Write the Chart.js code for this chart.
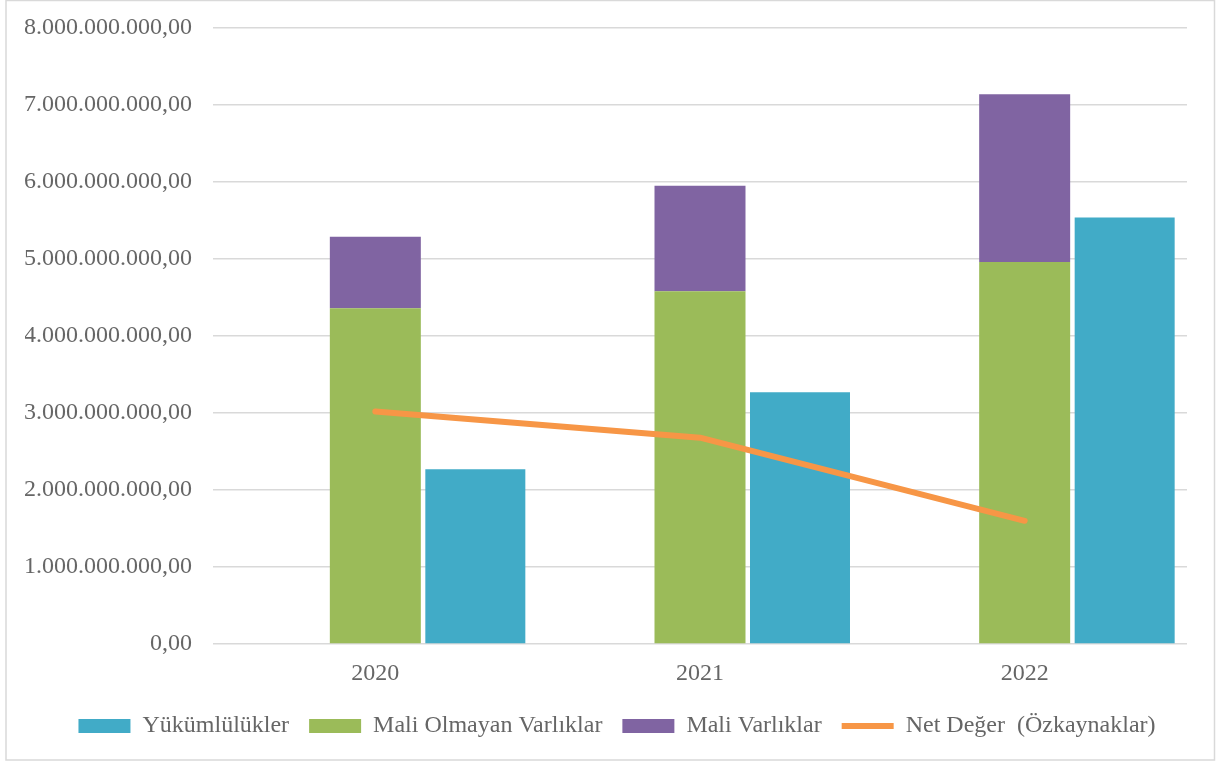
<!DOCTYPE html>
<html>
<head>
<meta charset="utf-8">
<script src="https://cdn.jsdelivr.net/npm/chart.js@4"></script>
<style>
  html, body { margin: 0; padding: 0; background: #fff; }
  #wrap { width: 1217px; height: 762px; position: relative; }
</style>
</head>
<body>
<div id="wrap"><canvas id="chart"></canvas></div>
<script>
var years = ['2020', '2021', '2022'];
var yukumlulukler = [2270000000, 3270000000, 5540000000];
var maliOlmayan = [4360000000, 4580000000, 4960000000];
var maliVarliklar = [930000000, 1370000000, 2180000000];
var netDeger = [3020000000, 2680000000, 1600000000];

var textColor = '#666666';
var serif = "'Liberation Serif', 'Times New Roman', serif";

// 1.000.000.000,00 style numbers
function trFormat(v) {
    var s = Math.round(Math.abs(v)).toString();
    s = s.replace(/\B(?=(\d{3})+(?!\d))/g, '.');
    return (v < 0 ? '-' : '') + s + ',00';
}

var frame = {
    id: 'frame',
    beforeDraw: function(chart) {
        var c = chart.ctx;
        c.save();
        c.strokeStyle = '#d9d9d9';
        c.lineWidth = 1.5;
        c.strokeRect(6, 0.5, 1208.5, 759.5);
        c.restore();
    },
    afterLayout: function(chart) {
        // legend sits a bit right of the plot centre in the original
        if (chart.legend) {
            chart.legend.left += 11;
            chart.legend.right += 11;
        }
    }
};

// legend order: Yükümlülükler, Mali Olmayan, Mali Varlıklar, Net Değer
var legendRank = { 1: 2, 2: 3, 3: 1, 4: 4 };

var ctx = document.getElementById('chart').getContext('2d');
new Chart(ctx, {
    type: 'bar',
    data: {
        labels: years,
        datasets: [{
            // empty left slot, keeps the asset stack on the category centre
            label: '',
            data: [null, null, null],
            stack: 'a',
            backgroundColor: 'rgba(0,0,0,0)'
        }, {
            label: 'Mali Olmayan Varlıklar',
            data: maliOlmayan,
            stack: 'b',
            backgroundColor: '#9bbb59',
            barPercentage: 0.91,
            pointStyle: 'rect'
        }, {
            label: 'Mali Varlıklar',
            data: maliVarliklar,
            stack: 'b',
            backgroundColor: '#8064a2',
            barPercentage: 0.91,
            pointStyle: 'rect'
        }, {
            label: 'Yükümlülükler',
            data: yukumlulukler,
            stack: 'c',
            backgroundColor: '#41abc7',
            barPercentage: 1.0,
            pointStyle: 'rect'
        }, {
            type: 'line',
            label: 'Net Değer  (Özkaynaklar)',
            data: netDeger,
            order: -1,
            borderColor: '#f79646',
            backgroundColor: '#f79646',
            borderWidth: 6,
            borderCapStyle: 'round',
            borderJoinStyle: 'round',
            pointRadius: 0,
            pointHoverRadius: 0,
            tension: 0,
            pointStyle: 'line'
        }]
    },
    options: {
        responsive: true,
        maintainAspectRatio: false,
        animation: false,
        categoryPercentage: 0.924,
        layout: { padding: { left: 25, right: 30, top: 28, bottom: 14 } },
        scales: {
            x: {
                stacked: true,
                afterFit: function(scale) { scale.height = 50; },
                grid: { display: false },
                border: { display: false },
                ticks: { color: textColor, font: { family: serif, size: 24 }, padding: 7 }
            },
            y: {
                stacked: true,
                min: 0,
                max: 8000000000,
                afterFit: function(scale) {
                    scale.width = 188;
                    scale.paddingTop = 0;
                    scale.paddingBottom = 0;
                },
                grid: { color: '#d9d9d9', lineWidth: 1.5, drawTicks: false },
                border: { display: false },
                ticks: {
                    stepSize: 1000000000,
                    color: textColor,
                    padding: 21,
                    font: { family: serif, size: 24 },
                    callback: function(v) { return trFormat(v); }
                }
            }
        },
        plugins: {
            tooltip: { enabled: false },
            legend: {
                position: 'bottom',
                labels: {
                    color: textColor,
                    font: { family: serif, size: 24 },
                    usePointStyle: true,
                    pointStyleWidth: 52,
                    boxHeight: 14,
                    padding: 20,
                    filter: function(item) { return item.datasetIndex !== 0; },
                    sort: function(a, b) { return legendRank[a.datasetIndex] - legendRank[b.datasetIndex]; }
                }
            }
        }
    },
    plugins: [frame]
});
</script>
</body>
</html>
